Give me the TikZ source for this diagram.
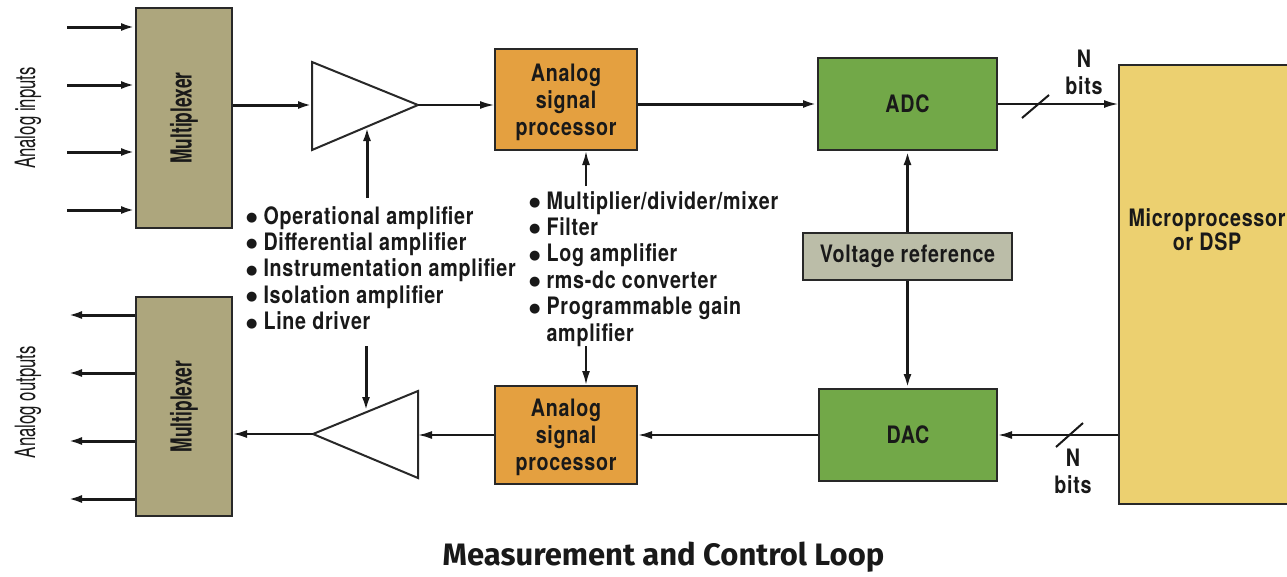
\documentclass[tikz,border=0pt]{standalone}
\usepackage{fontspec}
\setmainfont{TeX Gyre Heros}[FakeStretch=0.82,LetterSpace=3]
\newfontfamily\condfont{TeX Gyre Heros}[FakeStretch=0.6]
\newfontfamily\titlefont{Fira Sans}
\newfontfamily\symfont{DejaVu Sans}
\usetikzlibrary{arrows.meta}
\definecolor{muxc}{RGB}{173,166,125}
\definecolor{aspc}{RGB}{228,160,64}
\definecolor{adcc}{RGB}{114,168,72}
\definecolor{vrefc}{RGB}{187,189,168}
\definecolor{mpuc}{RGB}{236,208,112}
\definecolor{edgec}{RGB}{40,40,40}
\definecolor{txtc}{RGB}{25,25,25}
\newcommand{\bulmark}{\raisebox{2.5pt}{\symfont\fontsize{13}{13}\selectfont ●}\hspace{6pt}}
\begin{document}
\begin{tikzpicture}[x=1pt,y=-1pt,
  box/.style={draw=edgec,line width=2pt,inner sep=0pt,align=center,text=txtc,
    font=\bfseries\fontsize{24}{27}\selectfont},
  lbl/.style={inner sep=0pt,align=center,text=txtc,font=\bfseries\fontsize{24}{27}\selectfont},
  lst/.style={inner sep=0pt,align=left,text=txtc,font=\bfseries\fontsize{24}{26.4}\selectfont},
  side/.style={inner sep=0pt,text=txtc,rotate=90,font=\condfont\fontsize{28}{28}\selectfont},
  tri/.style={draw=edgec,line width=2pt,fill=white,line join=miter},
  tip/.style={-{Latex[length=14pt,width=8pt]}},
  thickw/.style={line width=3pt,draw=txtc},
  medw/.style={line width=2pt,draw=txtc},
  thinw/.style={line width=1.5pt,draw=txtc},
  slash/.style={line width=2pt,draw=txtc}]
\fill[white] (0,0) rectangle (1287,576);
\useasboundingbox (0,0) rectangle (1287,576);
\clip (0,0) rectangle (1287,576);

% boxes
\node[box,fill=muxc,minimum width=96pt,minimum height=220pt] (muxA) at (184,118)
  {\rotatebox{90}{\condfont\bfseries\fontsize{29}{29}\selectfont Multiplexer}};
\node[box,fill=muxc,minimum width=96pt,minimum height=219pt] (muxB) at (184,406.5)
  {\rotatebox{90}{\condfont\bfseries\fontsize{29}{29}\selectfont Multiplexer}};
\node[box,fill=aspc,minimum width=142pt,minimum height=101pt] (aspA) at (566,99.5) {};
\node[lbl,yshift=-3pt] (aspAt) at (aspA.center) {Analog\\signal\\processor};
\node[box,fill=aspc,minimum width=142pt,minimum height=98pt] (aspB) at (566,435) {};
\node[lbl,yshift=-2pt] (aspBt) at (aspB.center) {Analog\\signal\\processor};
\node[box,fill=adcc,minimum width=179pt,minimum height=92pt] (adc) at (907.5,104) {ADC};
\node[box,fill=adcc,minimum width=178pt,minimum height=92pt] (dac) at (908,435) {DAC};
\node[box,fill=vrefc,minimum width=209pt,minimum height=47pt] (vref) at (907.5,256.5) {Voltage reference};
\node[box,fill=mpuc,minimum width=181pt,minimum height=439pt] (mpu) at (1209.5,284.5) {};
\node[lbl,font=\bfseries\fontsize{24}{23}\selectfont] (mputxt) at (1207,230) {Microprocessor\\or DSP};

% side labels
\node[side] (inlbl) at (28,118) {Analog inputs};
\node[side] (outlbl) at (28,402) {Analog outputs};

% input / output arrows
\foreach \i/\y in {1/27,2/85,3/152,4/210} {
  \coordinate (in\i) at (67,\y);
  \draw[thickw,tip] (in\i) -- (in\i -| muxA.west);
}
\foreach \i/\y in {1/315,2/373,3/441,4/499} {
  \coordinate (out\i) at (68,\y);
  \draw[thickw,tip] (out\i -| muxB.west) -- (out\i);
}

% amplifiers
\coordinate (taA) at (312,62);
\coordinate (taB) at (312,150);
\coordinate (taT) at (418,105);
\coordinate (taL) at (312,105);
\coordinate (taE) at (367,127);
\draw[tri] (taA) -- (taB) -- (taT) -- cycle;
\coordinate (tbA) at (418,391);
\coordinate (tbB) at (418,478);
\coordinate (tbT) at (313,434);
\coordinate (tbR) at (418,435);
\coordinate (tbE) at (366,411);
\draw[tri] (tbA) -- (tbB) -- (tbT) -- cycle;

% signal path
\draw[thickw,tip] (muxA.east |- taL) -- (taL);
\draw[thinw,tip] (taT) -- (taT -| aspA.west);
\draw[thickw,tip] (aspA.east |- adc.west) -- (adc.west);
\draw[thinw,tip] (adc.east) -- (adc.east -| mpu.west);
\draw[medw,tip] (dac.east -| mpu.west) -- (dac.east);
\draw[medw,tip] (dac.west) -- (dac.west -| aspB.east);
\draw[medw,tip] (aspB.west) -- (tbR);
\draw[medw,tip] (tbT) -- (tbT -| muxB.east);

% reference
\draw[thickw,tip] (vref.north) -- (vref.north |- adc.south);
\draw[thickw,tip] (vref.south) -- (vref.south |- dac.north);

% bus slashes and labels
\coordinate (s1a) at (1022,118);
\coordinate (s1b) at (1049,95);
\draw[slash] (s1a) -- (s1b);
\node[lbl] (nb1) at (1084,72.5) {N\\bits};
\coordinate (s2a) at (1056,447);
\coordinate (s2b) at (1083,423);
\draw[slash] (s2a) -- (s2b);
\node[lbl] (nb2) at (1073,471.5) {N\\bits};

% lists
\node[lst,anchor=north west] (listA) at (246,206) {%
\bulmark Operational amplifier\\
\bulmark Differential amplifier\\
\bulmark Instrumentation amplifier\\
\bulmark Isolation amplifier\\
\bulmark Line driver};
\node[lst,anchor=north west] (listB) at (529,191) {%
\bulmark Multiplier/divider/mixer\\
\bulmark Filter\\
\bulmark Log amplifier\\
\bulmark rms-dc converter\\
\bulmark Programmable gain\\
\hphantom{\bulmark}amplifier};

% control arrows
\coordinate (ctlA) at (367,198);
\coordinate (ctlB) at (366,346);
\draw[thickw,tip] (ctlA) -- (taE);
\draw[thickw,tip] (ctlB) -- (tbE);
\coordinate (lstA) at (586,186);
\coordinate (lstB) at (586,346);
\draw[medw,tip] (lstA) -- (lstA |- aspA.south);
\draw[medw,tip] (lstB) -- (lstB |- aspB.north);

% title
\node[inner sep=0pt,text=txtc,font=\titlefont\bfseries\fontsize{31}{31}\selectfont] (title) at (663.5,557)
  {Measurement and Control Loop};
\end{tikzpicture}
\end{document}
